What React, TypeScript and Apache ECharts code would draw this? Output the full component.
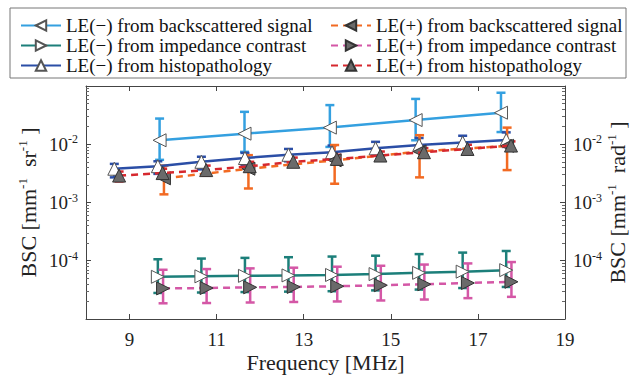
import React, { useEffect, useRef } from "react";
import * as echarts from "echarts";

const FONT = "'Liberation Serif', 'Times New Roman', Times, 'DejaVu Serif', serif";

const xTicks = [9, 11, 13, 15, 17, 19];

// LE(-) from backscattered signal
const freqBackMinus = [9.69, 11.64, 13.6, 15.57, 17.53];
const bscBackMinus = [0.0117, 0.0152, 0.0193, 0.026, 0.0348];
const hiBackMinus = [0.0276, 0.036, 0.047, 0.06, 0.0766];
const loBackMinus = [0.0054, 0.0074, 0.009, 0.0117, 0.0162];

// LE(-) from impedance contrast
const freqImpMinus = [9.65, 10.65, 11.65, 12.65, 13.65, 14.65, 15.65, 16.65, 17.65];
const bscImpMinus = [5.3e-5, 5.4e-5, 5.5e-5, 5.6e-5, 5.7e-5, 5.9e-5, 6.2e-5, 6.5e-5, 6.9e-5];
const hiImpMinus = [1.06e-4, 1.09e-4, 1.12e-4, 1.15e-4, 1.18e-4, 1.22e-4, 1.3e-4, 1.38e-4, 1.47e-4];
const loImpMinus = [2.8e-5, 2.85e-5, 2.9e-5, 2.95e-5, 3.0e-5, 3.1e-5, 3.2e-5, 3.4e-5, 3.55e-5];

// LE(-) from histopathology
const freqHistoMinus = [8.65, 9.65, 10.65, 11.65, 12.65, 13.65, 14.65, 15.65, 16.65, 17.65];
const bscHistoMinus = [0.0038, 0.0042, 0.005, 0.0058, 0.0066, 0.0073, 0.0085, 0.0097, 0.0107, 0.0118];
const hiHistoMinus = [0.0046, 0.0051, 0.0061, 0.0071, 0.0083, 0.0095, 0.011, 0.0128, 0.014, 0.016];
const loHistoMinus = [0.0027, 0.0031, 0.0037, 0.0043, 0.0051, 0.0056, 0.0065, 0.0075, 0.0083, 0.009];

// LE(+) from backscattered signal
const freqBackPlus = [9.79, 11.73, 13.71, 15.66, 17.67];
const bscBackPlus = [0.0026, 0.0038, 0.0053, 0.0075, 0.0094];
const hiBackPlus = [0.0043, 0.0065, 0.0097, 0.0143, 0.0193];
const loBackPlus = [0.00138, 0.00174, 0.0021, 0.0027, 0.0036];

// LE(+) from impedance contrast
const freqImpPlus = [9.77, 10.77, 11.77, 12.77, 13.77, 14.77, 15.77, 16.77, 17.77];
const bscImpPlus = [3.35e-5, 3.4e-5, 3.5e-5, 3.55e-5, 3.65e-5, 3.8e-5, 3.95e-5, 4.15e-5, 4.35e-5];
const hiImpPlus = [7.0e-5, 7.2e-5, 7.4e-5, 7.6e-5, 7.9e-5, 8.2e-5, 8.6e-5, 9.0e-5, 9.5e-5];
const loImpPlus = [1.86e-5, 1.88e-5, 1.92e-5, 1.96e-5, 2.0e-5, 2.08e-5, 2.16e-5, 2.28e-5, 2.4e-5];

// LE(+) from histopathology
const freqHistoPlus = [8.76, 9.76, 10.76, 11.76, 12.76, 13.76, 14.76, 15.76, 16.76, 17.76];
const bscHistoPlus = [0.0029, 0.0032, 0.0036, 0.0042, 0.005, 0.0056, 0.0064, 0.0073, 0.0083, 0.0095];
const hiHistoPlus = [0.0034, 0.0038, 0.0043, 0.005, 0.0059, 0.0066, 0.0075, 0.0086, 0.0098, 0.0112];
const loHistoPlus = [0.0023, 0.0026, 0.0029, 0.0034, 0.0041, 0.0046, 0.0053, 0.006, 0.0069, 0.0079];

const NAMES = [
  "LE(\u2212) from backscattered signal",
  "LE(\u2212) from impedance contrast",
  "LE(\u2212) from histopathology",
  "LE(+) from backscattered signal",
  "LE(+) from impedance contrast",
  "LE(+) from histopathology",
];

const OPEN_FILL = "#ffffff";
const OPEN_EDGE = "#555555";
const FILL_GREY = "#6a6a6a";
const FILL_EDGE = "#333333";

type Spec = {
  name: string;
  color: string;
  dashed: boolean;
  rotate: number;
  filled: boolean;
  x: number[];
  y: number[];
  lo: number[];
  hi: number[];
};

const specs: Spec[] = [
  { name: NAMES[0], color: "#34a0e0", dashed: false, rotate: 90, filled: false, x: freqBackMinus, y: bscBackMinus, lo: loBackMinus, hi: hiBackMinus },
  { name: NAMES[1], color: "#1c7f7a", dashed: false, rotate: -90, filled: false, x: freqImpMinus, y: bscImpMinus, lo: loImpMinus, hi: hiImpMinus },
  { name: NAMES[2], color: "#2b4ea6", dashed: false, rotate: 0, filled: false, x: freqHistoMinus, y: bscHistoMinus, lo: loHistoMinus, hi: hiHistoMinus },
  { name: NAMES[3], color: "#f26a22", dashed: true, rotate: 90, filled: true, x: freqBackPlus, y: bscBackPlus, lo: loBackPlus, hi: hiBackPlus },
  { name: NAMES[4], color: "#d457a6", dashed: true, rotate: -90, filled: true, x: freqImpPlus, y: bscImpPlus, lo: loImpPlus, hi: hiImpPlus },
  { name: NAMES[5], color: "#d6282e", dashed: true, rotate: 0, filled: true, x: freqHistoPlus, y: bscHistoPlus, lo: loHistoPlus, hi: hiHistoPlus },
];

const supRich = {
  b: { fontFamily: FONT, fontSize: 19, color: "#222", lineHeight: 22 },
  s: { fontFamily: FONT, fontSize: 12, color: "#222", lineHeight: 8, verticalAlign: "top" as const },
};

const titleRich = {
  b: { fontFamily: FONT, fontSize: 22, color: "#222", lineHeight: 24 },
  s: { fontFamily: FONT, fontSize: 13, color: "#222", lineHeight: 8, verticalAlign: "top" as const },
};

const logFormatter = (v: number) => {
  const e = Math.round(Math.log10(v));
  if (e < -4 || e > -2) return "";
  return `{b|10}{s|${e}}`;
};

export default function App() {
  const ref = useRef<HTMLDivElement>(null);
  useEffect(() => {
    if (!ref.current) return;
    const chart = echarts.init(ref.current, null, { renderer: "svg" });

    const series: any[] = [];
    specs.forEach((s, i) => {
      series.push({
        type: "custom",
        xAxisIndex: 0,
        yAxisIndex: 0,
        z: 2,
        silent: true,
        data: s.x.map((xv, k) => [xv, s.lo[k], s.hi[k]]),
        encode: { x: 0, y: [1, 2] },
        renderItem: (params: any, api: any) => {
          const xv = api.value(0);
          const p1 = api.coord([xv, api.value(1)]);
          const p2 = api.coord([xv, api.value(2)]);
          const w = 4.5;
          const st = { stroke: s.color, lineWidth: 2.5 };
          return {
            type: "group",
            children: [
              { type: "line", shape: { x1: p1[0], y1: p1[1], x2: p2[0], y2: p2[1] }, style: st },
              { type: "line", shape: { x1: p1[0] - w, y1: p1[1], x2: p1[0] + w, y2: p1[1] }, style: st },
              { type: "line", shape: { x1: p2[0] - w, y1: p2[1], x2: p2[0] + w, y2: p2[1] }, style: st },
            ],
          };
        },
      });
      series.push({
        type: "line",
        name: s.name,
        xAxisIndex: 0,
        yAxisIndex: 0,
        z: 3 + i,
        data: s.x.map((xv, k) => [xv, s.y[k]]),
        symbol: "triangle",
        symbolSize: 13,
        symbolRotate: s.rotate,
        showAllSymbol: true,
        lineStyle: { color: s.color, width: 2.5, type: s.dashed ? [7, 5] : "solid" },
        itemStyle: {
          color: s.filled ? FILL_GREY : OPEN_FILL,
          borderColor: s.filled ? FILL_EDGE : OPEN_EDGE,
          borderWidth: 1,
        },
      });
    });

    const legendCommon = {
      orient: "vertical" as const,
      top: 11,
      itemGap: 1,
      itemWidth: 40,
      itemHeight: 13,
      selectedMode: false,
      textStyle: { fontFamily: FONT, fontSize: 19, color: "#111", lineHeight: 18, height: 18 },
    };

    chart.setOption({
      animation: false,
      backgroundColor: "#ffffff",
      textStyle: { fontFamily: FONT },
      grid: { left: 86, right: 65, top: 86, bottom: 57, containLabel: false, outerBoundsMode: "none" },
      graphic: [
        {
          type: "rect",
          shape: { x: 10, y: 8, width: 616, height: 70 },
          style: { fill: "none", stroke: "#777", lineWidth: 1 },
          z: 0,
        },
      ],
      legend: [
        { ...legendCommon, left: 15, data: NAMES.slice(0, 3) },
        { ...legendCommon, left: 325, data: NAMES.slice(3, 6) },
      ],
      xAxis: [
        {
          type: "value",
          min: 8,
          max: 19,
          position: "bottom",
          name: "Frequency [MHz]",
          nameLocation: "middle",
          nameGap: 32,
          nameMoveOverlap: false,
          nameTextStyle: { fontFamily: FONT, fontSize: 22, color: "#222" },
          axisLine: { show: true, lineStyle: { color: "#444", width: 1 } },
          axisTick: { show: true, inside: true, length: 5, customValues: xTicks, lineStyle: { color: "#444" } },
          axisLabel: { customValues: xTicks, margin: 11, fontFamily: FONT, fontSize: 19, color: "#222" },
          splitLine: { show: false },
        },
        {
          type: "value",
          min: 8,
          max: 19,
          position: "top",
          axisLine: { show: true, lineStyle: { color: "#444", width: 1 } },
          axisTick: { show: true, inside: true, length: 5, customValues: xTicks, lineStyle: { color: "#444" } },
          axisLabel: { show: false },
          splitLine: { show: false },
        },
      ],
      yAxis: [
        {
          type: "log",
          logBase: 10,
          min: 1e-5,
          max: 1e-1,
          position: "left",
          name: "{b|BSC [mm}{s|-1}{b|  sr}{s|-1}{b| ]}",
          nameLocation: "middle",
          nameGap: 46,
          nameRotate: 90,
          nameMoveOverlap: false,
          nameTextStyle: { rich: titleRich },
          axisLine: { show: true, lineStyle: { color: "#444", width: 1 } },
          axisTick: { show: true, inside: true, length: 5, lineStyle: { color: "#444" } },
          minorTick: { show: true, splitNumber: 9, length: 3, lineStyle: { color: "#666" } },
          axisLabel: { formatter: logFormatter, rich: supRich, margin: 8 },
          splitLine: { show: false },
        },
        {
          type: "log",
          logBase: 10,
          min: 1e-5,
          max: 1e-1,
          position: "right",
          name: "{b|BSC [mm}{s|-1}{b|  rad}{s|-1}{b| ]}",
          nameLocation: "middle",
          nameGap: 40,
          nameRotate: 90,
          nameMoveOverlap: false,
          nameTextStyle: { rich: titleRich },
          axisLine: { show: true, lineStyle: { color: "#444", width: 1 } },
          axisTick: { show: true, inside: true, length: 5, lineStyle: { color: "#444" } },
          minorTick: { show: true, splitNumber: 9, length: 3, lineStyle: { color: "#666" } },
          axisLabel: { formatter: logFormatter, rich: supRich, margin: 8 },
          splitLine: { show: false },
        },
      ],
      series,
    });
    return () => chart.dispose();
  }, []);
  return (
    <div
      ref={ref}
      style={{ position: "absolute", left: 0, top: 0, width: 630, height: 376, overflow: "hidden" }}
    />
  );
}
